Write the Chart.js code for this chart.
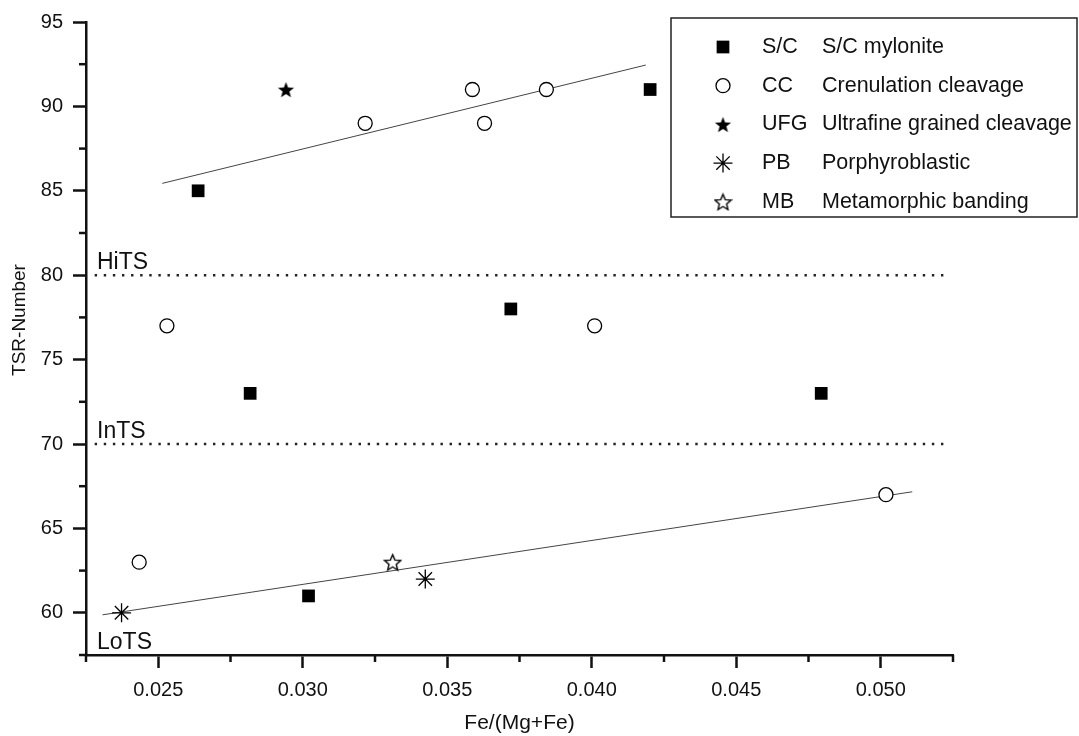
<!DOCTYPE html>
<html>
<head>
<meta charset="utf-8">
<script src="https://cdn.jsdelivr.net/npm/chart.js"></script>
<style>
  html, body { margin: 0; padding: 0; background: #fff; }
</style>
</head>
<body>
<canvas id="chart" width="1079" height="736"></canvas>
<script>
// legend entries
const seriesCodes = ['S/C', 'CC', 'UFG', 'PB', 'MB'];
const seriesNames = ['S/C mylonite', 'Crenulation cleavage', 'Ultrafine grained cleavage', 'Porphyroblastic', 'Metamorphic banding'];

// values
const scX = [0.02638, 0.02818, 0.0302, 0.0372, 0.04202, 0.04794];
const scY = [85, 73, 61, 78, 91, 73];
const ccX = [0.02434, 0.0253, 0.03216, 0.03587, 0.03629, 0.03843, 0.0401, 0.05018];
const ccY = [63, 77, 89, 91, 89, 91, 77, 67];
const ufgX = [0.02942];
const ufgY = [91];
const pbX = [0.02373, 0.03424];
const pbY = [60, 62];
const mbX = [0.03311];
const mbY = [63];

// fitted trend lines (end points)
const upperFitX = [0.02514, 0.04187];
const upperFitY = [85.44, 92.45];
const lowerFitX = [0.02307, 0.05109];
const lowerFitY = [59.88, 67.17];

// TSR class limits
const zoneNames = ['HiTS', 'InTS', 'LoTS'];
const zoneLevels = [80, 70, 57.5];
const levelLineX = [0.0228, 0.0523];

const FONT = '"Liberation Sans", Arial, Helvetica, sans-serif';
const INK = '#111';

const isMajorX = v => Math.round(v * 10000) % 50 === 0;
const isMajorY = v => Math.round(v * 10) % 50 === 0;
const pts = (xs, ys) => xs.map((x, i) => ({ x: x, y: ys[i] }));

function starImg(size, filled) {
  const c = document.createElement('canvas');
  c.width = c.height = size;
  const g = c.getContext('2d');
  const cx = size / 2, cy = size / 2 + size * 0.05;
  const R = size / 2 - 1, r = R * (filled ? 0.42 : 0.45);
  g.beginPath();
  for (let i = 0; i < 10; i++) {
    const a = -Math.PI / 2 + i * Math.PI / 5;
    const rr = i % 2 ? r : R;
    g.lineTo(cx + rr * Math.cos(a), cy + rr * Math.sin(a));
  }
  g.closePath();
  if (filled) { g.fillStyle = '#000'; g.fill(); }
  else { g.lineWidth = 1.4; g.strokeStyle = '#000'; g.stroke(); }
  return c;
}
const fullStar = starImg(19, true);
const openStar = starImg(19, false);

const markers = [
  { pointStyle: 'rect', radius: 9, fill: '#000', border: 0 },
  { pointStyle: 'circle', radius: 7, fill: '#fff', border: 1.3 },
  { pointStyle: fullStar, radius: 9, fill: '#000', border: 0 },
  { pointStyle: 'star', radius: 9.5, fill: '#000', border: 1.3 },
  { pointStyle: openStar, radius: 9, fill: '#fff', border: 0 }
];
const seriesData = [pts(scX, scY), pts(ccX, ccY), pts(ufgX, ufgY), pts(pbX, pbY), pts(mbX, mbY)];

const datasets = seriesData.map((d, i) => ({
  label: seriesCodes[i],
  data: d,
  pointStyle: markers[i].pointStyle,
  pointRadius: markers[i].radius,
  pointBackgroundColor: markers[i].fill,
  pointBorderColor: '#000',
  pointBorderWidth: markers[i].border,
  showLine: false,
  order: 1
}));

const lineSet = (data, extra) => Object.assign({
  data: data, showLine: true, pointRadius: 0, fill: false,
  borderColor: '#444', borderWidth: 1, order: 2
}, extra);

datasets.push(lineSet(pts(upperFitX, upperFitY)));
datasets.push(lineSet(pts(lowerFitX, lowerFitY)));
[80, 70].forEach(lv => {
  datasets.push(lineSet(levelLineX.map(x => ({ x: x, y: lv })),
    { borderColor: '#222', borderWidth: 2.4, borderDash: [2.4, 6.7], borderCapStyle: 'butt' }));
});

const decor = {
  id: 'decor',
  afterDraw(chart) {
    const { ctx, chartArea, scales } = chart;
    const x = scales.x, y = scales.y;
    ctx.save();

    // minor ticks
    ctx.strokeStyle = INK;
    ctx.lineWidth = 2.5;
    x.ticks.forEach(t => {
      if (isMajorX(t.value)) return;
      const px = x.getPixelForValue(t.value);
      ctx.beginPath(); ctx.moveTo(px, chartArea.bottom); ctx.lineTo(px, chartArea.bottom + 7); ctx.stroke();
    });
    y.ticks.forEach(t => {
      if (isMajorY(t.value)) return;
      const py = y.getPixelForValue(t.value);
      ctx.beginPath(); ctx.moveTo(chartArea.left, py); ctx.lineTo(chartArea.left - 7, py); ctx.stroke();
    });

    // zone labels
    ctx.fillStyle = INK;
    ctx.font = '23px ' + FONT;
    ctx.textAlign = 'left';
    ctx.textBaseline = 'alphabetic';
    zoneNames.forEach((n, i) => ctx.fillText(n, chartArea.left + 11, y.getPixelForValue(zoneLevels[i]) - 6));

    // y axis title
    ctx.save();
    ctx.translate(20, 320);
    ctx.rotate(-Math.PI / 2);
    ctx.font = '19px ' + FONT;
    ctx.textAlign = 'center';
    ctx.textBaseline = 'middle';
    ctx.fillText('TSR-Number', 0, 0);
    ctx.restore();

    // legend box
    ctx.strokeStyle = '#222';
    ctx.lineWidth = 1.5;
    ctx.strokeRect(671, 18, 406, 199);
    ctx.font = '21.5px ' + FONT;
    ctx.textBaseline = 'middle';
    seriesCodes.forEach((code, i) => {
      const ry = 47 + i * 38.7;
      const m = markers[i];
      ctx.fillStyle = m.fill;
      ctx.strokeStyle = '#000';
      ctx.lineWidth = m.border;
      if (Chart.helpers && Chart.helpers.drawPoint) {
        Chart.helpers.drawPoint(ctx, { pointStyle: m.pointStyle, radius: m.radius, borderWidth: m.border, rotation: 0 }, 723, ry);
      }
      ctx.fillStyle = INK;
      ctx.fillText(code, 762, ry);
      ctx.fillText(seriesNames[i], 822, ry);
    });
    ctx.restore();
  }
};

Chart.defaults.font.family = FONT;
Chart.defaults.color = INK;

new Chart(document.getElementById('chart'), {
  type: 'scatter',
  data: { datasets: datasets },
  options: {
    responsive: false,
    animation: false,
    events: [],
    clip: false,
    layout: { padding: { left: 0, right: 126, top: 19, bottom: 0 } },
    plugins: { legend: { display: false }, tooltip: { enabled: false } },
    scales: {
      x: {
        type: 'linear',
        min: 0.0225, max: 0.0525,
        border: { color: INK, width: 2.5 },
        grid: {
          drawOnChartArea: false, tickLength: 13, tickWidth: 2.5,
          tickColor: c => (c.tick && isMajorX(c.tick.value)) ? INK : 'rgba(0,0,0,0)'
        },
        ticks: {
          stepSize: 0.0025, autoSkip: false, maxRotation: 0, padding: 10,
          color: INK, font: { size: 20 },
          callback: v => isMajorX(v) ? v.toFixed(3) : ''
        },
        title: { display: true, text: 'Fe/(Mg+Fe)', color: INK, font: { size: 21 }, padding: { top: 0, bottom: 0 } },
        afterFit: s => { s.height = 81; }
      },
      y: {
        type: 'linear',
        min: 57.5, max: 95,
        border: { color: INK, width: 2.5 },
        grid: {
          drawOnChartArea: false, tickLength: 13, tickWidth: 2.5,
          tickColor: c => (c.tick && isMajorY(c.tick.value)) ? INK : 'rgba(0,0,0,0)'
        },
        ticks: {
          stepSize: 2.5, autoSkip: false, padding: 10,
          color: INK, font: { size: 20 },
          callback: v => isMajorY(v) ? String(Math.round(v)) : ''
        },
        afterFit: s => { s.width = 86; }
      }
    }
  },
  plugins: [decor]
});
</script>
</body>
</html>
